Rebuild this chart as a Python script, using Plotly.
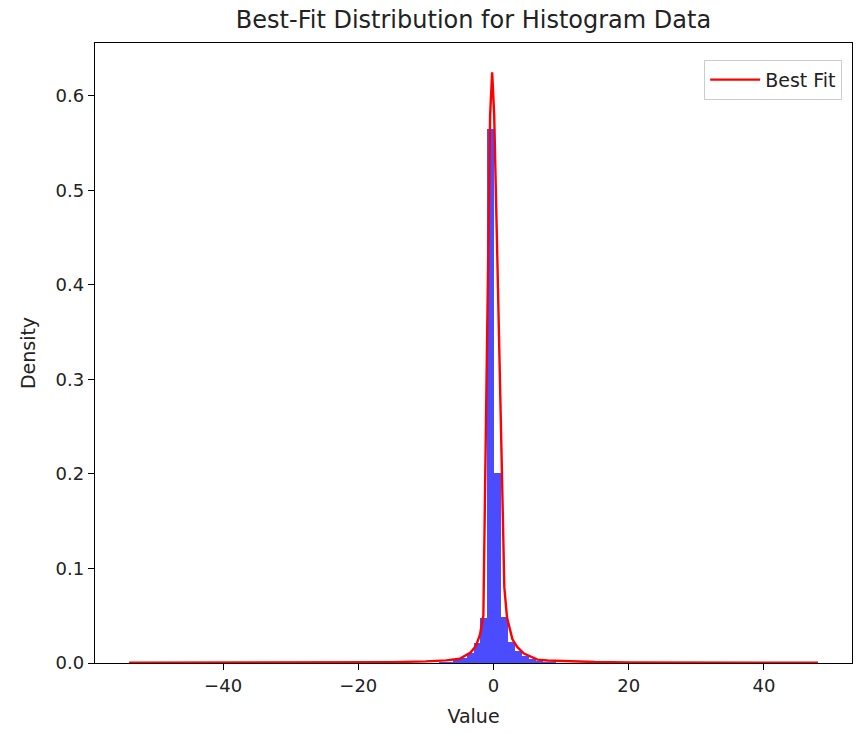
import plotly.graph_objects as go

# Histogram bins (density)
bin_width = 1.019
bin_left_edges = [-8.04, -7.02, -6.01, -4.99, -3.97, -2.95, -1.93, -0.91, 0.11, 1.13, 2.15, 3.17, 4.19, 5.21, 6.23, 7.25, 8.27]
bin_heights = [0.001, 0.0015, 0.003, 0.0055, 0.0105, 0.021, 0.048, 0.565, 0.201, 0.049, 0.022, 0.013, 0.007, 0.004, 0.002, 0.0012, 0.0008]

fit_x = [-53.9, -40, -30, -20, -15, -10, -7, -5.0, -4.4, -3.4, -2.6, -2.0, -1.5, -1.15, -0.8, -0.5, -0.2,
         0.1, 0.5, 0.9, 1.25, 1.6, 2.0, 2.8, 3.5, 4.5, 5.5, 6.5, 8, 10, 15, 20, 30, 40, 48.0]
fit_y = [0.0002, 0.0002, 0.0003, 0.0006, 0.0009, 0.0017, 0.0028, 0.0045, 0.007, 0.011, 0.018, 0.03, 0.05, 0.25, 0.45, 0.58, 0.625,
         0.58, 0.45, 0.33, 0.2, 0.08, 0.048, 0.025, 0.017, 0.01, 0.0065, 0.0035, 0.0027, 0.002, 0.001, 0.0007, 0.0004, 0.0003, 0.0002]

bin_centers = [e + bin_width / 2 for e in bin_left_edges]

FONT = "DejaVu Sans"

fig = go.Figure()
fig.add_trace(go.Bar(
    x=bin_centers, y=bin_heights, width=[bin_width] * len(bin_centers),
    marker=dict(color="rgba(0,0,255,0.7)", line=dict(width=0)),
    showlegend=False, hoverinfo="skip",
))
fig.add_trace(go.Scatter(
    x=fit_x, y=fit_y, mode="lines", name="Best Fit",
    line=dict(color="#ff0000", width=2.4),
))

axis_common = dict(
    showline=True, linecolor="black", linewidth=1.3, mirror=True,
    ticks="outside", ticklen=6, tickwidth=1.3, tickcolor="black",
    showgrid=False, zeroline=False,
    tickfont=dict(family=FONT, size=18, color="#222"),
)

fig.update_layout(
    width=862, height=734,
    margin=dict(l=95, r=10, t=43, b=71),
    paper_bgcolor="white", plot_bgcolor="white",
    bargap=0,
    title=dict(text="Best-Fit Distribution for Histogram Data", x=(95 + 852) / 2 / 862, xanchor="center",
               y=1 - 20 / 734, yanchor="middle", font=dict(family=FONT, size=24, color="#222")),
    xaxis=dict(range=[-58.95, 53.03], tickmode="linear", tick0=-40, dtick=20,
               title=dict(text="Value", font=dict(family=FONT, size=19, color="#222"), standoff=14),
               **axis_common),
    yaxis=dict(range=[0, 0.656], tickmode="linear", tick0=0, dtick=0.1, tickformat=".1f",
               title=dict(text="Density", font=dict(family=FONT, size=19, color="#222"), standoff=14),
               **axis_common),
    legend=dict(x=0.987, xanchor="right", y=0.973, yanchor="top",
                bordercolor="#cccccc", borderwidth=1, bgcolor="white", itemwidth=50,
                font=dict(family=FONT, size=19, color="#222")),
)

fig.write_html("out.html")
